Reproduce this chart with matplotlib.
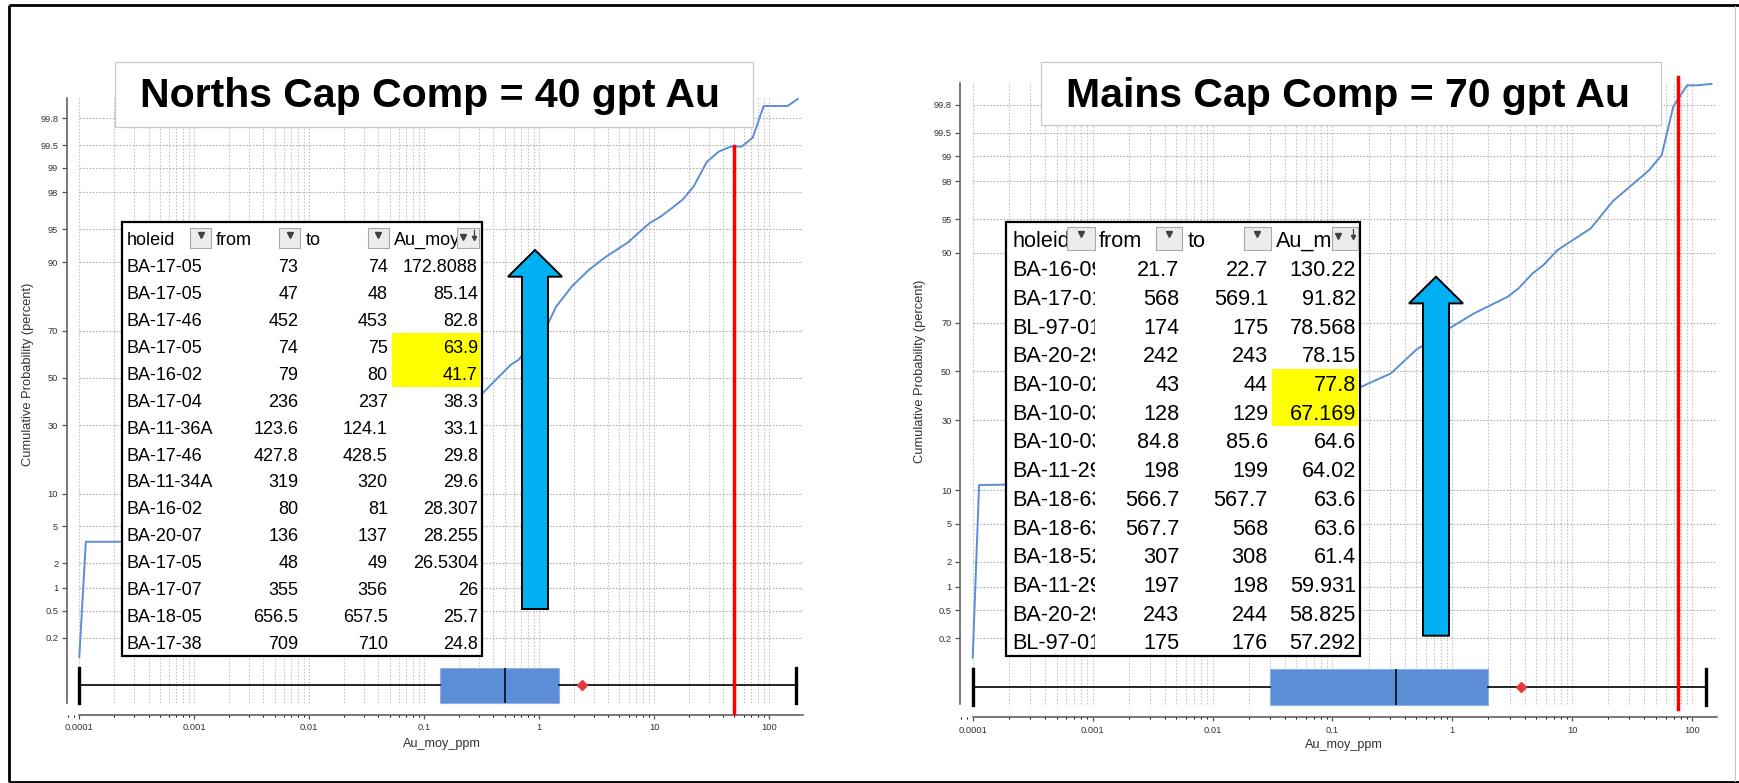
import matplotlib
matplotlib.use("Agg")
import matplotlib.pyplot as plt
from matplotlib.patches import Rectangle, FancyArrow
from matplotlib.ticker import LogLocator, NullFormatter
from matplotlib.transforms import Bbox
from statistics import NormalDist

plt.rcParams['font.family'] = ['Liberation Sans', 'DejaVu Sans']

W, H = 1739, 783

# ---- axis ticks ----
prob_ticks = [0.2, 0.5, 1, 2, 5, 10, 30, 50, 70, 90, 95, 98, 99, 99.5, 99.8]
prob_labels = ["0.2", "0.5", "1", "2", "5", "10", "30", "50", "70", "90",
               "95", "98", "99", "99.5", "99.8"]
x_ticks = [1e-4, 1e-3, 1e-2, 1e-1, 1, 10, 100]
x_labels = ["0.0001", "0.001", "0.01", "0.1", "1", "10", "100"]

# ---- Norths: cumulative probability curve (Au ppm vs percent) ----
north_au = [1e-4, 1.14e-4, 2.35e-4, 0.324, 0.566, 0.66, 1.16, 1.40, 1.92, 2.70,
            3.80, 5.90, 9.18, 11.4, 14.3, 17.8, 22.1, 28.7, 36.5, 46.4, 57.8,
            72.1, 89.8, 145, 178]
north_prob = [0.10, 3.48, 3.48, 43.4, 55.8, 57.9, 71.4, 78.4, 84.4, 88.4,
              91.0, 93.3, 95.7, 96.3, 97.0, 97.6, 98.3, 99.16, 99.39, 99.48, 99.48,
              99.61, 99.87, 99.87, 99.90]
north_stats = dict(whislo=1e-4, q1=0.137, med=0.509, q3=1.49, whishi=172.8088, mean=2.34)
north_cap = 50
north_title = "Norths Cap Comp = 40 gpt Au"

north_holeid = ["BA-17-05", "BA-17-05", "BA-17-46", "BA-17-05", "BA-16-02", "BA-17-04",
                "BA-11-36A", "BA-17-46", "BA-11-34A", "BA-16-02", "BA-20-07", "BA-17-05",
                "BA-17-07", "BA-18-05", "BA-17-38"]
north_from = [73, 47, 452, 74, 79, 236, 123.6, 427.8, 319, 80, 136, 48, 355, 656.5, 709]
north_to = [74, 48, 453, 75, 80, 237, 124.1, 428.5, 320, 81, 137, 49, 356, 657.5, 710]
north_grade = [172.8088, 85.14, 82.8, 63.9, 41.7, 38.3, 33.1, 29.8, 29.6, 28.307,
               28.255, 26.5304, 26, 25.7, 24.8]
north_highlight = [3, 4]

# ---- Mains ----
main_au = [1e-4, 1.13e-4, 1.89e-4, 0.163, 0.308, 0.498, 0.895, 1.52, 2.89, 3.56,
           4.66, 5.76, 7.53, 14.3, 21.8, 43.5, 55.8, 69.7, 90.8, 110, 145]
main_prob = [0.10, 11.0, 11.1, 42.8, 49.2, 59.2, 67.3, 73.5, 79.0, 81.5,
             85.5, 87.5, 90.5, 93.9, 96.7, 98.5, 99.03, 99.79, 99.90, 99.90, 99.905]
main_stats = dict(whislo=1e-4, q1=0.0303, med=0.336, q3=1.99, whishi=130.22, mean=3.72)
main_cap = 76
main_title = "Mains Cap Comp = 70 gpt Au"

main_holeid = ["BA-16-09", "BA-17-01", "BL-97-01", "BA-20-29", "BA-10-02", "BA-10-03",
               "BA-10-03", "BA-11-29", "BA-18-63", "BA-18-63", "BA-18-52", "BA-11-29",
               "BA-20-29", "BL-97-01"]
main_from = [21.7, 568, 174, 242, 43, 128, 84.8, 198, 566.7, 567.7, 307, 197, 243, 175]
main_to = [22.7, 569.1, 175, 243, 44, 129, 85.6, 199, 567.7, 568, 308, 198, 244, 176]
main_grade = [130.22, 91.82, 78.568, 78.15, 77.8, 67.169, 64.6, 64.02, 63.6, 63.6,
              61.4, 59.931, 58.825, 57.292]
main_highlight = [4, 5]

table_headers = ["holeid", "from", "to", "Au_moy"]

LINE_BLUE = '#5B8ED6'
GRID = '#c4c4c4'

zq = NormalDist().inv_cdf


def to_z(p):
    return [zq(v / 100.0) for v in p]


fig = plt.figure(figsize=(W / 100, H / 100), dpi=100, facecolor='white')


def px_axes(x0, y0, x1, y1):
    return fig.add_axes([x0 / W, 1 - y1 / H, (x1 - x0) / W, (y1 - y0) / H])


def draw_panel(rect, xlim, ylim, spine_lo, au, prob, stats, cap, box_z, red_span):
    ax = px_axes(*rect)
    ax.set_xscale('log')
    ax.set_xlim(*xlim)
    ax.set_ylim(*ylim)

    grid_x = [k * 10.0 ** d for d in range(-4, 3) for k in range(1, 10)
              if k * 10.0 ** d <= xlim[1]]
    ax.vlines(grid_x, spine_lo, ylim[1], colors=GRID, linestyles=(0, (1.5, 1.5)),
              lw=0.8, zorder=0)
    ax.hlines(to_z(prob_ticks), 1e-4, xlim[1], colors='#b0b0b0',
              linestyles=(0, (1.5, 1.5)), lw=0.8, zorder=0)

    ax.plot(au, to_z(prob), color=LINE_BLUE, lw=1.4, zorder=3)

    st = dict(stats, fliers=[])
    ax.bxp([st], positions=[box_z], widths=0.385, orientation='horizontal',
           patch_artist=True, showmeans=True, manage_ticks=False, capwidths=[0.385],
           boxprops=dict(facecolor=LINE_BLUE, edgecolor='#8fb2e3', lw=0.8),
           medianprops=dict(color='black', lw=1.1),
           whiskerprops=dict(color='black', lw=1.2),
           capprops=dict(color='black', lw=2.4),
           meanprops=dict(marker='D', markerfacecolor='#e8383b', markeredgecolor='#e8383b',
                          markersize=5))

    ax.plot([cap, cap], red_span, color='red', lw=2.5, clip_on=False, zorder=5)

    ax.set_xticks(x_ticks, x_labels)
    ax.xaxis.set_minor_locator(LogLocator(base=10, subs=range(2, 10), numticks=50))
    ax.xaxis.set_minor_formatter(NullFormatter())
    ax.set_yticks(to_z(prob_ticks), prob_labels)
    ax.tick_params(axis='both', labelsize=6.7, labelcolor='#333333', color='#555555')
    ax.tick_params(axis='y', length=3.6, width=0.9, pad=2.5)
    ax.tick_params(axis='x', which='major', length=3.0, width=0.9, pad=3)
    ax.tick_params(axis='x', which='minor', length=1.7, width=0.7)

    for s in ['top', 'right']:
        ax.spines[s].set_visible(False)
    ax.spines['left'].set_bounds(spine_lo, ylim[1])
    ax.spines['bottom'].set_bounds(1e-4, xlim[1])
    for s in ['left', 'bottom']:
        ax.spines[s].set_color('#555555')
        ax.spines[s].set_linewidth(1.1)
    return ax


draw_panel((66.7, 98, 803.3, 715), (10 ** -4.1096, 10 ** 2.298), (-3.733, 3.10), -3.60,
           north_au, north_prob, north_stats, north_cap, -3.405, [-3.709, zq(0.9949)])
draw_panel((960, 83.3, 1716.7, 717.3), (10 ** -4.106, 10 ** 2.205), (-3.734, 3.112), -3.591,
           main_au, main_prob, main_stats, main_cap, -3.404, [-3.648, 3.18])

# axis labels
for (yx, yy), (xx, xy) in [((27.8, 374), (441.7, 743.5)), ((919.9, 371), (1344, 745))]:
    fig.text(yx / W, 1 - yy / H, "Cumulative Probability (percent)", rotation=90,
             ha='center', va='center', fontsize=9.3, color='#333333')
    fig.text(xx / W, 1 - xy / H, "Au_moy_ppm", ha='center', va='center',
             fontsize=9.1, color='#333333')

# ---- overlay in pixel space: titles, tables, arrows, frame ----
ov = fig.add_axes([0, 0, 1, 1])
ov.set_xlim(0, W)
ov.set_ylim(H, 0)
ov.axis('off')
ov.set_zorder(10)

for (bx0, by0, bx1, by1), tx, title in [((115.3, 61.7, 753.3, 126.7), 430.5, north_title),
                                        ((1040.7, 61.7, 1661, 125), 1347.6, main_title)]:
    ov.add_patch(Rectangle((bx0, by0), bx1 - bx0, by1 - by0, facecolor='white',
                           edgecolor='#c8c8c8', lw=0.9, zorder=1))
    ov.text(tx, 106.8, title, fontsize=29.5, fontweight='bold', ha='center',
            va='baseline', zorder=2)


def clip_text(t, x0, y0, x1, y1):
    t.set_clip_on(True)
    t.set_clip_box(Bbox.from_extents(x0, H - y1, x1, H - y0))


def draw_table(frame, header_c, pitch, fs, header_x, buttons, btn_y, rows,
               col_x, clip_x, hl_rows, hl_x):
    x0, y0, x1, y1 = frame
    ov.add_patch(Rectangle((x0, y0), x1 - x0, y1 - y0, facecolor='white',
                           edgecolor='black', lw=1.6, zorder=1))
    cap_half = 0.358 * fs / 0.72
    for r in hl_rows:
        yc = header_c + pitch * (r + 1)
        ov.add_patch(Rectangle((hl_x[0], yc - pitch / 2), hl_x[1] - hl_x[0], pitch,
                               facecolor='#FFFF00', edgecolor='none', zorder=2))
    # header labels, cut off where the filter buttons start
    for name, hx, (b0, b1) in zip(table_headers, header_x, buttons):
        t = ov.text(hx, header_c + cap_half, name, fontsize=fs, ha='left',
                    va='baseline', zorder=3)
        clip_text(t, x0, y0, b0, y1)
    # filter buttons (drawn as small icons)
    for i, (b0, b1) in enumerate(buttons):
        ov.add_patch(Rectangle((b0, btn_y[0]), b1 - b0, btn_y[1] - btn_y[0],
                               facecolor='#ececec', edgecolor='#a8a8a8', lw=0.8, zorder=4))
        if i < len(buttons) - 1:
            ov.plot((b0 + b1) / 2, btn_y[0] + 7, marker='v', ms=4.5, color='#404040',
                    zorder=5)
        else:
            ov.plot(b0 + 6.5, btn_y[0] + 9, marker='v', ms=4, color='#404040', zorder=5)
            ov.plot([b1 - 5, b1 - 5], [btn_y[0] + 2, btn_y[0] + 10], color='#404040',
                    lw=0.9, zorder=5)
            ov.plot(b1 - 5, btn_y[0] + 10, marker='v', ms=3, color='#404040', zorder=5)
    for i, row in enumerate(zip(*rows)):
        yb = header_c + pitch * (i + 1) + cap_half
        t = ov.text(col_x[0], yb, row[0], fontsize=fs, ha='left', va='baseline', zorder=3)
        clip_text(t, x0, y0, clip_x, y1)
        for j in range(1, 4):
            ov.text(col_x[j], yb, str(row[j]), fontsize=fs, ha='right',
                    va='baseline', zorder=3)


draw_table((122.2, 222.3, 482.2, 656.3), 238.3, 26.97, 13.0,
           [126.7, 215.6, 305.6, 394.4],
           [(190, 211), (279, 300), (367.8, 388.9), (456.7, 478.9)], (228, 248),
           [north_holeid, north_from, north_to, north_grade],
           [126.7, 298.3, 387.8, 477.8], 212.5, north_highlight, (391.7, 479.5))

draw_table((1005.8, 222.3, 1359.5, 656.0), 239.6, 28.72, 15.6,
           [1012.5, 1099, 1187.6, 1276.3],
           [(1066.8, 1094.5), (1155.5, 1182), (1244, 1270.8), (1331.8, 1357.8)], (227, 250),
           [main_holeid, main_from, main_to, main_grade],
           [1012.5, 1179.3, 1268, 1356], 1094.5, main_highlight, (1271.9, 1357.8))

# big blue arrows (x, bottom, tip)
for ax_x, y_bot, y_tip in [(535, 609, 250), (1436, 635.7, 276.7)]:
    ov.add_patch(FancyArrow(ax_x, y_bot, 0, y_tip - y_bot,
                            width=26, head_width=54, head_length=26.7,
                            length_includes_head=True, facecolor='#00B0F0',
                            edgecolor='black', lw=1.4, zorder=6))

# slide frame
ov.plot([8.7, 8.7], [5.3, 782], color='black', lw=2.0, solid_capstyle='butt')
ov.plot([8.7, W], [5.3, 5.3], color='black', lw=2.0, solid_capstyle='butt')
ov.plot([8.7, W], [782, 782], color='black', lw=2.0, solid_capstyle='butt')
ov.plot([1735, 1735], [6, 781], color='#c0c0c0', lw=0.8)

fig.savefig("out.png", dpi=100, facecolor='white')
